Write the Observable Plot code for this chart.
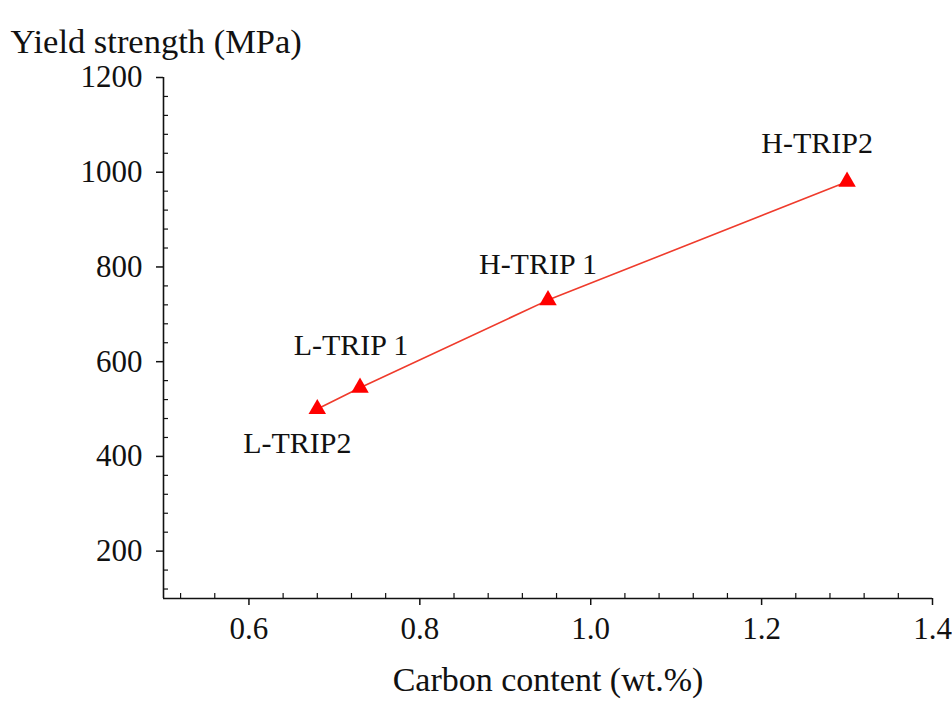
<!DOCTYPE html>
<html><head><meta charset="utf-8">
<script src="https://cdn.jsdelivr.net/npm/d3@7"></script>
<script src="https://cdn.jsdelivr.net/npm/@observablehq/plot@0.6"></script>
<style>body{margin:0;background:#fff} svg{display:block}</style>
</head><body><div id="chart"></div>
<script>
const grades = ["L-TRIP2", "L-TRIP 1", "H-TRIP 1", "H-TRIP2"];
const carbon = [0.68, 0.73, 0.95, 1.30];
const yieldStrength = [500, 545, 730, 980];
const xTicks = [0.6, 0.8, 1.0, 1.2, 1.4];
const yTicks = [200, 400, 600, 800, 1000, 1200];
const xMinor = d3.range(0.52, 1.4, 0.04).filter(v => Math.abs(v * 5 - Math.round(v * 5)) > 1e-6);
const yMinor = d3.range(120, 1200, 40).filter(v => v % 200 !== 0);

const data = grades.map((g, i) => ({grade: g, c: carbon[i], ys: yieldStrength[i]}));
const labelOffsets = {"L-TRIP2": [-20, 34], "L-TRIP 1": [-9, -42], "H-TRIP 1": [-10, -36], "H-TRIP2": [-30, -38]};

const font = "'Liberation Serif', 'Times New Roman', serif";
const ink = "#111";

const plot = Plot.plot({
  width: 952, height: 708,
  marginLeft: 163, marginRight: 20, marginTop: 77, marginBottom: 110,
  style: {fontFamily: font, color: ink, background: "#fff"},
  x: {domain: [0.5, 1.4]},
  y: {domain: [100, 1200]},
  marks: [
    Plot.ruleX([0.5], {stroke: ink, strokeWidth: 1.6}),
    Plot.ruleY([100], {stroke: ink, strokeWidth: 1.6}),
    Plot.axisY(yTicks, {tickSize: 7, tickPadding: 14, fontSize: 31, label: null, tickFormat: d => String(d), strokeWidth: 1.5}),
    Plot.axisY(yMinor, {tickSize: -5, text: null, label: null, strokeWidth: 1.2}),
    Plot.axisX(xTicks, {tickSize: 7, tickPadding: 11, fontSize: 31, label: null, tickFormat: d => d.toFixed(1), strokeWidth: 1.5}),
    Plot.axisX(xMinor, {tickSize: -5, text: null, label: null, strokeWidth: 1.2}),
    Plot.line(data, {x: "c", y: "ys", stroke: "#ef3b2c", strokeWidth: 1.6}),
    Plot.dot(data, {x: "c", y: "ys", symbol: "triangle", fill: "#f00", stroke: "none", r: 6.5}),
    ...grades.map(g => Plot.text(data.filter(d => d.grade === g), {
      x: "c", y: "ys", text: "grade", fontSize: 30, fill: ink,
      dx: labelOffsets[g][0], dy: labelOffsets[g][1]
    })),
    Plot.text(["Yield strength (MPa)"], {frameAnchor: "top-left", text: d => d, textAnchor: "start", fontSize: 34.5, fill: ink, dx: -153, dy: -49}),
    Plot.text(["Carbon content (wt.%)"], {frameAnchor: "bottom", text: d => d, fontSize: 34, fill: ink, dy: 92})
  ]
});
document.getElementById("chart").appendChild(plot);
</script>
</body></html>
